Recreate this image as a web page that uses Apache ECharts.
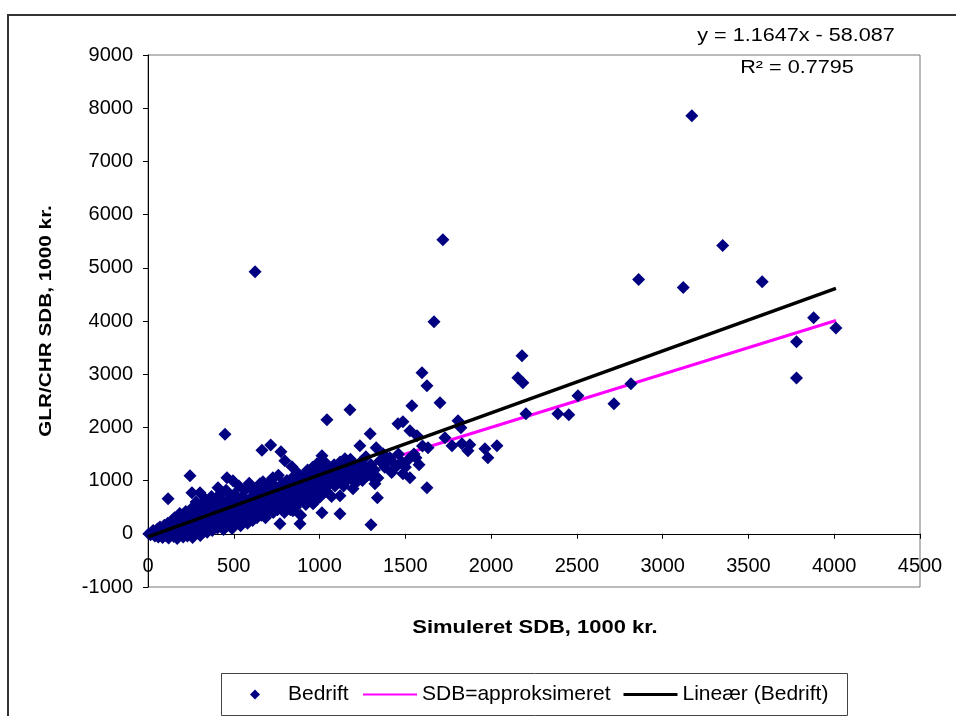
<!DOCTYPE html>
<html>
<head>
<meta charset="utf-8">
<script src="https://cdn.jsdelivr.net/npm/echarts@6/dist/echarts.min.js"></script>
<style>html,body{margin:0;padding:0;background:#fff;}#c{width:956px;height:716px;}</style>
</head>
<body>
<div id="c"></div>
<script>
// Scatter points "Bedrift" [simuleret SDB, GLR/CHR SDB]
const bedriftOutliers = [
  [3170,7860],[3350,5420],[2860,4780],[3120,4630],[3580,4740],[3880,4060],[3780,3610],[3780,2930],[4010,3870],
  [2815,2820],[2716,2444],[2506,2594],[2453,2237],[2389,2256],[2203,2256],[2185,2838],[2156,2932],[2180,3346],
  [1719,5526],[1667,3985],[624,4925],[449,1870],[1597,3026],[1626,2782],[1538,2406],[1702,2462],[1457,2068],
  [1486,2105],[1527,1936],[1568,1842],[1807,2124],[1824,1992],[1731,1805],[1772,1654],[1830,1692],[1876,1673],
  [1865,1560],[1964,1598],[1981,1429],[2034,1654],[1632,1617],[1562,1429],[1330,1617],[1295,1880],[1410,1429],
  [1451,1278],[1486,1128],[1527,1053],[1626,865],[1337,677],[1300,170],[1323,940],[1352,1372],[1370,1504],
  [1305,1241],[1311,1053],[1177,2331],[1043,2143],[715,1670],[664,1570],[775,1541],[798,1372],[839,1259],
  [1235,1654],[1014,1466],[985,1316],[728,1053],[874,1053],[1148,1410],[1195,1316],[1276,1147],[1195,846],
  [1119,714],[962,564],[1014,395],[1119,376],[845,432],[886,188],[769,188],[245,1090],[117,658],[256,771],
  [303,771],[408,865],[460,1053],[495,996],[594,902],[653,940]
];
const bedriftCluster = [
  [5,0],[15,-20],[25,30],[30,60],[40,-40],[45,20],[55,90],[60,-60],[65,40],[70,130],[80,10],[85,-70],[90,70],
  [95,160],[100,-30],[105,110],[110,40],[115,200],[120,-80],[125,80],[130,150],[135,0],[140,250],[145,60],
  [150,-50],[150,120],[155,300],[160,30],[165,180],[170,-90],[175,90],[180,230],[185,380],[190,0],[195,140],
  [200,300],[205,-60],[210,60],[215,200],[220,420],[225,110],[230,-40],[235,260],[240,20],[245,350],[250,160],
  [255,480],[260,-70],[265,80],[270,300],[275,200],[280,600],[285,40],[290,400],[295,130],[300,250],[305,-30],
  [310,520],[315,330],[320,90],[325,180],[330,450],[335,650],[340,280],[345,30],[350,380],[355,150],[360,560],
  [365,230],[370,700],[375,60],[380,320],[385,480],[390,180],[395,620],[400,400],[405,110],[410,270],[415,520],
  [420,750],[425,200],[430,350],[435,600],[440,80],[445,440],[450,300],[455,820],[460,150],[465,530],[470,380],
  [475,680],[480,250],[485,450],[490,100],[495,580],[500,350],[505,750],[510,200],[515,480],[520,620],[525,300],
  [530,900],[535,420],[540,150],[545,550],[550,700],[555,260],[560,480],[565,820],[570,380],[575,600],[580,200],
  [585,500],[590,950],[595,330],[600,680],[605,450],[610,250],[615,580],[620,800],[625,400],[630,650],[635,300],
  [640,520],[645,900],[650,450],[655,720],[660,350],[665,600],[670,980],[675,480],[680,780],[685,300],[690,650],
  [695,550],[700,850],[705,420],[710,700],[715,1000],[720,520],[725,620],[730,400],[735,800],[740,900],[745,560],
  [750,680],[755,450],[760,1100],[765,750],[770,600],[775,850],[780,500],[785,950],[790,700],[795,400],[800,800],
  [805,620],[810,1000],[815,550],[820,900],[825,700],[830,450],[835,850],[840,1050],[845,650],[850,750],[855,950],
  [860,500],[865,800],[870,1150],[875,600],[880,900],[885,700],[890,350],[895,1000],[900,800],[905,650],[910,1100],
  [915,900],[920,550],[925,750],[930,1200],[935,850],[940,650],[945,950],[950,1050],[955,700],[960,1250],[965,880],
  [970,600],[975,1000],[980,1150],[985,780],[990,900],[995,1300],[1000,1000],[1005,700],[1010,1200],[1015,850],
  [1020,1100],[1025,950],[1030,1350],[1040,800],[1045,1050],[1050,1250],[1060,950],[1065,1150],[1070,700],
  [1080,1050],[1085,1300],[1090,900],[1100,1200],[1110,1000],[1120,1350],[1130,1100],[1140,900],[1150,1250],
  [1160,1000],[1170,1150],[1180,1400],[1190,1050],[1200,1300],[1210,950],[1220,1200],[1230,1100],[1240,1350],
  [1250,1000],[1260,1250],[1270,1450],[1280,1100],[1300,1300],[1320,1200],[1340,1050],[1360,1350],[1380,1250],
  [1400,1400],[1420,1150],[1440,1300],[1460,1500],[1480,1350],[1500,1250],[1520,1400],[1550,1500],[1580,1300],[1600,1650]
];
// "SDB=approksimeret" line (y = x) endpoints
const approxLine = [[0,0],[4010,4010]];
// Linear trend (y = 1.1647x - 58.087) endpoints
const trendLine = [[0,-58.1],[4010,4612.4]];
const equationText = 'y = 1.1647x - 58.087';
const r2Text = 'R² = 0.7795';

const FONT = '"Liberation Sans", Arial, sans-serif';
const plain = v => String(v);
const chart = echarts.init(document.getElementById('c'));
chart.setOption({
  animation: false,
  backgroundColor: '#fff',
  grid: { left: 148, top: 55, right: 36, bottom: 129, show: true, borderColor: '#777', borderWidth: 1, outerBoundsMode: 'none' },
  xAxis: {
    type: 'value', min: 0, max: 4500, interval: 500,
    axisLine: { onZero: true, lineStyle: { color: '#000', width: 1 } },
    axisTick: { show: true, inside: false, length: 5, lineStyle: { color: '#000' } },
    axisLabel: { margin: -31, fontSize: 20, fontFamily: FONT, color: '#000', formatter: plain },
    splitLine: { show: false }
  },
  yAxis: {
    type: 'value', min: -1000, max: 9000, interval: 1000,
    axisLine: { show: true, onZero: false, lineStyle: { color: '#000', width: 1 } },
    axisTick: { show: true, inside: false, length: 5, lineStyle: { color: '#000' } },
    axisLabel: { margin: 15, fontSize: 20, fontFamily: FONT, color: '#000', formatter: plain },
    splitLine: { show: false }
  },
  legend: [
    {
      data: [{ name: 'Bedrift', icon: 'diamond' }],
      left: 250, top: 684, padding: 0, itemWidth: 10, itemHeight: 10,
      selectedMode: false,
      textStyle: { fontSize: 21, fontFamily: FONT, color: '#000', padding: [0, 0, 0, 23] }
    },
    {
      data: [
        { name: 'SDB=approksimeret', icon: 'path://M0,0H54V2H0Z' },
        { name: 'Lineær (Bedrift)', icon: 'path://M0,0H54V3H0Z' }
      ],
      left: 363, top: 684, padding: 0, itemWidth: 54, itemHeight: 12, itemGap: 13,
      selectedMode: false,
      textStyle: { fontSize: 21, fontFamily: FONT, color: '#000' }
    }
  ],
  graphic: [
    { type: 'rect', silent: true, z: -10, shape: { x: 8, y: 15, width: 990, height: 740 }, style: { fill: 'none', stroke: '#333', lineWidth: 2 } },
    { type: 'rect', silent: true, shape: { x: 221.5, y: 673.5, width: 626, height: 42 }, style: { fill: 'none', stroke: '#444', lineWidth: 1 } },
    { type: 'text', silent: true, x: 796, y: 36, scaleX: 1.2, style: { text: equationText, font: '18px ' + FONT, fill: '#000', align: 'center', verticalAlign: 'middle' } },
    { type: 'text', silent: true, x: 797, y: 68, scaleX: 1.2, style: { text: r2Text, font: '18px ' + FONT, fill: '#000', align: 'center', verticalAlign: 'middle' } },
    { type: 'text', silent: true, x: 535, y: 628, scaleX: 1.22, style: { text: 'Simuleret SDB, 1000 kr.', font: 'bold 18px ' + FONT, fill: '#000', align: 'center', verticalAlign: 'middle' } },
    { type: 'text', silent: true, x: 46, y: 321, rotation: Math.PI / 2, scaleX: 1.22, style: { text: 'GLR/CHR SDB, 1000 kr.', font: 'bold 17px ' + FONT, fill: '#000', align: 'center', verticalAlign: 'middle' } }
  ],
  series: [
    {
      name: 'SDB=approksimeret', type: 'line', data: approxLine, symbol: 'none', z: 1,
      lineStyle: { color: '#FF00FF', width: 3 }, itemStyle: { color: '#FF00FF' }
    },
    {
      name: 'Bedrift', type: 'scatter', data: bedriftCluster.concat(bedriftOutliers), z: 2,
      symbol: 'diamond', symbolSize: 13,
      itemStyle: { color: '#000080', opacity: 1 }
    },
    {
      name: 'Lineær (Bedrift)', type: 'line', data: trendLine, symbol: 'none', z: 3,
      lineStyle: { color: '#000', width: 3.5 }, itemStyle: { color: '#000' }
    }
  ]
});
</script>
</body>
</html>
